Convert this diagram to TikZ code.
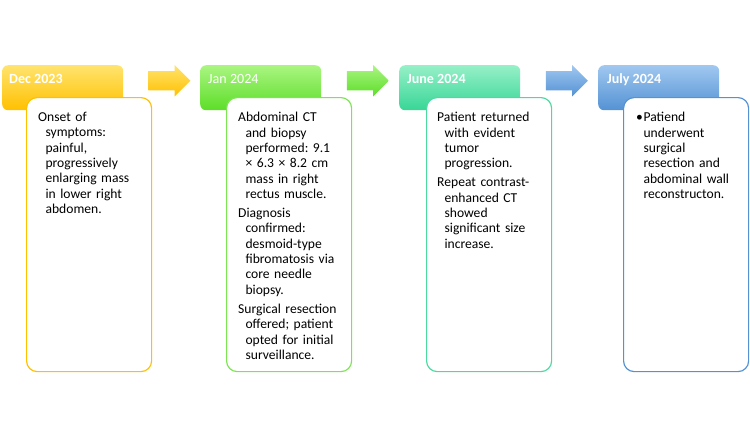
\documentclass[tikz,border=0pt]{standalone}
\usepackage{fontspec}
\setmainfont{Carlito}
\usepackage{tikz}
\usetikzlibrary{shapes.arrows, positioning, calc}
\definecolor{mygold}{RGB}{255,192,0}
\definecolor{hdrgold}{RGB}{255,228,110}
\definecolor{mygreen}{RGB}{92,222,40}
\definecolor{hdrgreen}{RGB}{170,245,130}
\definecolor{mymint}{RGB}{56,214,150}
\definecolor{hdrmint}{RGB}{150,240,200}
\definecolor{myblue}{RGB}{84,146,212}
\definecolor{hdrblue}{RGB}{160,200,240}
\newcommand{\evhang}{\hangindent=0.22cm\hangafter=1\relax}
\tikzset{
  header/.style={rectangle, rounded corners=5pt, minimum width=3.63cm,
    minimum height=1.35cm, inner sep=0pt, anchor=north west},
  card/.style={rectangle, fill=white, rounded corners=9pt, minimum width=3.75cm,
    minimum height=8.22cm, line width=1pt, inner sep=0pt, anchor=north west},
  cardtext/.style={text width=3.35cm, align=left, inner sep=0pt, anchor=north west,
    font=\fontsize{11.6}{13.1}\selectfont\frenchspacing\setlength{\parskip}{3.2pt}},
  datelabel/.style={text=white, inner sep=0pt, anchor=base west,
    font=\fontsize{12}{14}\selectfont\bfseries},
  steparrow/.style={single arrow, minimum height=1.26cm, inner xsep=0pt,
    inner ysep=0.285cm, single arrow head extend=0.18cm}
}

\begin{document}
\begin{tikzpicture}[x=0.03cm, y=-0.03cm]
  \useasboundingbox (0,0) rectangle (750,436);

  % Date headers
  \node[header, top color=hdrgold, bottom color=mygold] (h1) at (2,65) {};
  \node[header, top color=hdrgreen, bottom color=mygreen] (h2) at (200,65) {};
  \node[header, top color=hdrmint, bottom color=mymint] (h3) at (399,65) {};
  \node[header, top color=hdrblue, bottom color=myblue] (h4) at (598,65) {};

  \node[datelabel] (d1) at ([shift={(0.21cm,-0.54cm)}]h1.north west) {Dec 2023};
  \node[datelabel, font=\fontsize{12}{14}\selectfont] (d2) at ([shift={(0.24cm,-0.54cm)}]h2.north west) {Jan 2024};
  \node[datelabel] (d3) at ([shift={(0.24cm,-0.54cm)}]h3.north west) {June 2024};
  \node[datelabel] (d4) at ([shift={(0.27cm,-0.54cm)}]h4.north west) {July 2024};

  % Arrows between headers
  \node[steparrow, top color=hdrgold, bottom color=mygold] (a1)
    at ([shift={(0.08cm,0.21cm)}]$(h1.east)!0.5!(h2.west)$) {};
  \node[steparrow, top color=hdrgreen, bottom color=mygreen] (a2)
    at ([shift={(0.08cm,0.21cm)}]$(h2.east)!0.5!(h3.west)$) {};
  \node[steparrow, top color=hdrblue, bottom color=myblue] (a3)
    at ([shift={(0.08cm,0.21cm)}]$(h3.east)!0.5!(h4.west)$) {};

  % Event cards
  \node[card, draw=mygold] (c1) at ([shift={(0.72cm,-0.96cm)}]h1.north west) {};
  \node[card, draw=mygreen!80] (c2) at ([shift={(0.78cm,-0.96cm)}]h2.north west) {};
  \node[card, draw=mymint!90] (c3) at ([shift={(0.81cm,-0.96cm)}]h3.north west) {};
  \node[card, draw=myblue] (c4) at ([shift={(0.75cm,-0.96cm)}]h4.north west) {};

  \node[cardtext] (t1) at ([shift={(0.36cm,-0.45cm)}]c1.north west) {%
    \evhang Onset of\newline symptoms:\newline painful,\newline progressively\newline
    enlarging mass\newline in lower right\newline abdomen.\par};
  \node[cardtext] (t2) at ([shift={(0.36cm,-0.45cm)}]c2.north west) {%
    \evhang Abdominal CT\newline and biopsy\newline performed: 9.1\newline
    × 6.3 × 8.2 cm\newline mass in right\newline rectus muscle.\par
    \evhang Diagnosis\newline confirmed:\newline desmoid-type\newline
    fibromatosis via\newline core needle\newline biopsy.\par
    \evhang Surgical resection\newline offered; patient\newline
    opted for initial\newline surveillance.\par};
  \node[cardtext] (t3) at ([shift={(0.33cm,-0.45cm)}]c3.north west) {%
    \evhang Patient returned\newline with evident\newline tumor\newline progression.\par
    \evhang Repeat contrast-\newline enhanced CT\newline showed\newline
    significant size\newline increase.\par};
  \node[cardtext] (t4) at ([shift={(0.39cm,-0.45cm)}]c4.north west) {%
    \evhang\makebox[0.22cm][l]{\textbullet}Patiend\newline underwent\newline surgical\newline
    resection and\newline abdominal wall\newline reconstructon.\par};
\end{tikzpicture}
\end{document}
